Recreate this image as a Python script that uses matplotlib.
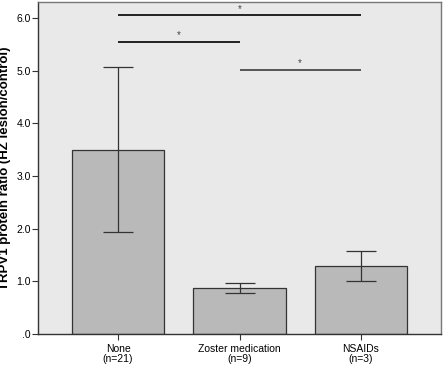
import matplotlib
matplotlib.use("Agg")
import matplotlib.pyplot as plt
from matplotlib.ticker import FuncFormatter

plt.rcParams["font.family"] = ["Liberation Sans", "DejaVu Sans"]

groups = ["None\n(n=21)", "Zoster medication\n(n=9)", "NSAIDs\n(n=3)"]
means = [3.49, 0.87, 1.29]
err_low = [1.94, 0.78, 1.00]
err_high = [5.06, 0.97, 1.58]

# significance brackets: (from group, to group, height)
sig = [(0, 2, 6.05), (0, 1, 5.54), (1, 2, 5.01)]

fig = plt.figure(figsize=(4.44, 3.65), dpi=100)
ax = fig.add_axes([38 / 444, 31 / 365, 403 / 444, 332 / 365])
ax.set_facecolor("#e9e9e9")

x = list(range(len(groups)))
ax.bar(x, means, width=0.76, color="#b9b9b9", edgecolor="#333333", linewidth=0.9, zorder=2)
yerr = [[m - lo for m, lo in zip(means, err_low)], [hi - m for m, hi in zip(means, err_high)]]
ax.errorbar(x, means, yerr=yerr, fmt="none", ecolor="#333333", elinewidth=0.9,
            capsize=11, capthick=0.9, zorder=3)

for a, b, h in sig:
    c = "#555555" if a == 1 else "#222222"
    ax.plot([a, b], [h, h], color=c, lw=1.4, solid_capstyle="butt", zorder=3)
    ax.text((a + b) / 2, h + 0.03, "*", ha="center", va="bottom", fontsize=7, color="#444444")

ax.set_xlim(-0.66, 2.66)
ax.set_ylim(0, 6.3)
ax.set_yticks([0, 1, 2, 3, 4, 5, 6])
ax.yaxis.set_major_formatter(FuncFormatter(lambda v, p: ".0" if v == 0 else f"{v:.1f}"))
ax.set_xticks(x)
ax.set_xticklabels(groups, fontsize=7.5, linespacing=1.0)
ax.tick_params(axis="y", labelsize=7.5, length=4, pad=1, color="#333333")
ax.tick_params(axis="x", length=4, color="#333333")
for s in ax.spines.values():
    s.set_color("#777777")
    s.set_linewidth(1.0)
ax.spines["left"].set_color("#333333")
ax.spines["bottom"].set_color("#333333")
ax.set_ylabel("TRPV1 protein ratio (HZ lesion/control)", fontsize=9.5, fontweight="bold")
ax.yaxis.set_label_coords(-0.068, 0.5)

fig.savefig("out.png", dpi=100)
